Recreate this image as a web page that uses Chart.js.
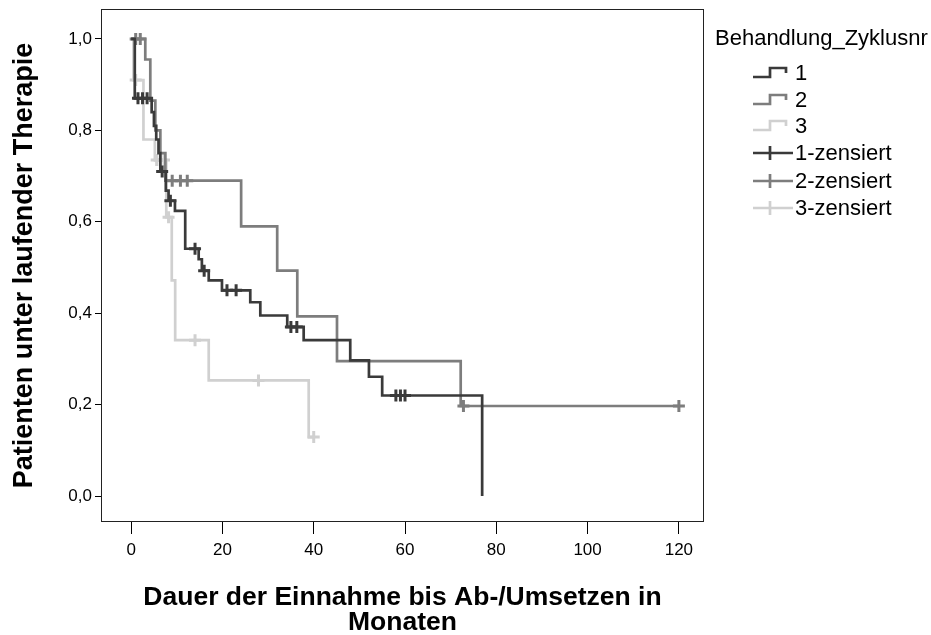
<!DOCTYPE html>
<html lang="de">
<head>
<meta charset="utf-8">
<title>Patienten unter laufender Therapie</title>
<script src="https://cdn.jsdelivr.net/npm/chart.js@4.4.1/dist/chart.umd.min.js"></script>
<style>
    html, body { margin: 0; padding: 0; background: #fff; }
    #wrap { position: relative; width: 931px; height: 635px; }
    #legende {
        position: absolute; left: 715px; top: 0;
        font-family: "Liberation Sans", Arial, sans-serif; font-size: 22px; color: #000;
    }
    #legende .titel { position: absolute; left: 0; top: 25px; white-space: nowrap; line-height: 26px; }
    #legende .eintrag { position: absolute; left: 0; height: 27px; display: flex; align-items: center; white-space: nowrap; }
    #legende svg { margin-left: 38px; margin-right: 2px; }
</style>
</head>
<body>
<div id="wrap">
    <canvas id="kmChart" width="931" height="635"></canvas>
    <div id="legende"></div>
</div>
<script>
// Gruppe 1 (Zyklus 1): Zeitpunkte der Ereignisse und Anteil danach
const zeit1 = [0, 0.8, 4.5, 5.0, 5.5, 6.0, 6.4, 7.6, 8.2, 9.6, 11.85, 14.8, 15.5, 17.0, 19.9, 26.1, 28.3, 34.2, 37.8, 48.0, 52.1, 55.0, 76.9]
const anteil1 = [1.0, 0.87, 0.84, 0.81, 0.78, 0.75, 0.71, 0.668, 0.646, 0.624, 0.541, 0.518, 0.493, 0.472, 0.45, 0.424, 0.395, 0.37, 0.341, 0.297, 0.261, 0.22, 0.0]
const zensiert1X = [1.5, 2.5, 3.5, 6.8, 8.6, 14.0, 16.0, 21.0, 23.0, 35.0, 36.3, 58.0, 59.0, 60.0]
const zensiert1Y = [0.87, 0.87, 0.87, 0.71, 0.646, 0.541, 0.493, 0.45, 0.45, 0.37, 0.37, 0.22, 0.22, 0.22]

// Gruppe 2
const zeit2 = [0, 3.1, 4.2, 5.3, 6.4, 7.5, 24.1, 32.0, 36.4, 45.1, 72.2, 120]
const anteil2 = [1.0, 0.955, 0.865, 0.80, 0.75, 0.69, 0.59, 0.493, 0.393, 0.295, 0.197, 0.197]
const zensiert2X = [1.0, 2.0, 9.0, 10.8, 12.3, 72.8, 120]
const zensiert2Y = [1.0, 1.0, 0.69, 0.69, 0.69, 0.197, 0.197]

// Gruppe 3
const zeit3 = [0, 0.5, 2.7, 5.2, 7.7, 8.9, 9.65, 17.0, 38.9, 40]
const anteil3 = [1.0, 0.91, 0.78, 0.735, 0.61, 0.472, 0.341, 0.253, 0.129, 0.129]
const zensiert3X = [1.0, 5.6, 6.4, 7.2, 8.2, 14.0, 27.9, 40]
const zensiert3Y = [0.91, 0.735, 0.735, 0.735, 0.61, 0.341, 0.253, 0.129]

const xTicks = [0, 20, 40, 60, 80, 100, 120]
const yTicks = [0, 0.2, 0.4, 0.6, 0.8, 1.0]

const gruppen = ['1', '2', '3']
const farben = ['#3a3a3a', '#7d7d7d', '#d0d0d0']

const schrift = '"Liberation Sans", Arial, sans-serif'

const punkte = (xs, ys) => xs.map((x, i) => ({ x: x, y: ys[i] }))

const kurve = (xs, ys, farbe, name) => ({
    label: name,
    data: punkte(xs, ys),
    showLine: true,
    stepped: 'before',
    borderColor: farbe,
    borderWidth: 2.7,
    pointRadius: 0,
    fill: false
})

const zensur = (xs, ys, farbe, name) => ({
    label: name,
    data: punkte(xs, ys),
    showLine: false,
    pointStyle: 'cross',
    pointRadius: 6,
    pointBorderWidth: 3,
    pointBorderColor: farbe,
    pointBackgroundColor: farbe
})

// Rahmen um die Zeichenfläche wie in SPSS
const rahmen = {
    id: 'rahmen',
    afterDraw(chart) {
        const { ctx, chartArea: a } = chart
        ctx.save()
        ctx.strokeStyle = '#222'
        ctx.lineWidth = 1
        ctx.strokeRect(a.left + 0.5, a.top + 0.5, a.right - a.left - 1, a.bottom - a.top - 1)
        ctx.restore()
    }
}

const kmChart = new Chart(document.getElementById('kmChart'), {
    type: 'scatter',
    data: {
        datasets: [
            kurve(zeit1, anteil1, farben[0], '1'),
            zensur(zensiert1X, zensiert1Y, farben[0], '1-zensiert'),
            kurve(zeit2, anteil2, farben[1], '2'),
            zensur(zensiert2X, zensiert2Y, farben[1], '2-zensiert'),
            kurve(zeit3, anteil3, farben[2], '3'),
            zensur(zensiert3X, zensiert3Y, farben[2], '3-zensiert')
        ]
    },
    options: {
        responsive: false,
        animation: false,
        layout: { padding: { left: 0, top: 8, right: 227, bottom: 0 } },
        plugins: {
            legend: { display: false },
            tooltip: { enabled: false }
        },
        scales: {
            x: {
                type: 'linear',
                min: -6.6,
                max: 125.5,
                afterFit: (s) => { s.height = 113; s.paddingLeft = 0; s.paddingRight = 0 },
                afterBuildTicks: (s) => { s.ticks = xTicks.map(v => ({ value: v })) },
                border: { display: false },
                grid: { drawOnChartArea: false, drawTicks: true, tickLength: 12, color: '#000' },
                ticks: { color: '#000', font: { family: schrift, size: 17 }, padding: 6, maxRotation: 0 },
                title: {
                    display: true,
                    text: ['Dauer der Einnahme bis Ab-/Umsetzen in', 'Monaten'],
                    color: '#000',
                    font: { family: schrift, size: 26.5, weight: 'bold', lineHeight: '25px' },
                    padding: { top: 0, bottom: 0 }
                }
            },
            y: {
                type: 'linear',
                min: -0.0568,
                max: 1.0655,
                afterFit: (s) => { s.width = 101; s.paddingTop = 0; s.paddingBottom = 0 },
                afterBuildTicks: (s) => { s.ticks = yTicks.map(v => ({ value: v })) },
                border: { display: false },
                grid: { drawOnChartArea: false, drawTicks: true, tickLength: 6, color: '#000' },
                ticks: {
                    color: '#000',
                    font: { family: schrift, size: 17 },
                    padding: 3,
                    callback: (v) => v.toFixed(1).replace('.', ',')
                },
                title: {
                    display: true,
                    text: 'Patienten unter laufender Therapie',
                    color: '#000',
                    font: { family: schrift, size: 27, weight: 'bold', lineHeight: '30px' },
                    padding: { top: 10, bottom: 0 }
                }
            }
        }
    },
    plugins: [rahmen]
})

// Legende rechts neben dem Diagramm
const legende = document.getElementById('legende')
const stufe = (farbe) =>
    `<svg width="40" height="16"><polyline points="0,12 17,12 17,3 33,3 33,8" fill="none" stroke="${farbe}" stroke-width="2.7"/></svg>`
const kreuz = (farbe) =>
    `<svg width="40" height="16"><line x1="0" y1="8" x2="40" y2="8" stroke="${farbe}" stroke-width="2.7"/><line x1="17" y1="1" x2="17" y2="15" stroke="${farbe}" stroke-width="2.7"/></svg>`

let html = '<div class="titel">Behandlung_Zyklusnr</div>'
const mitten = [73, 100, 126, 153, 181, 208]
gruppen.forEach((g, i) => {
    html += `<div class="eintrag" style="top:${mitten[i] - 13.5}px">${stufe(farben[i])}<span>${g}</span></div>`
})
gruppen.forEach((g, i) => {
    html += `<div class="eintrag" style="top:${mitten[i + 3] - 13.5}px">${kreuz(farben[i])}<span>${g}-zensiert</span></div>`
})
legende.innerHTML = html
</script>
</body>
</html>
